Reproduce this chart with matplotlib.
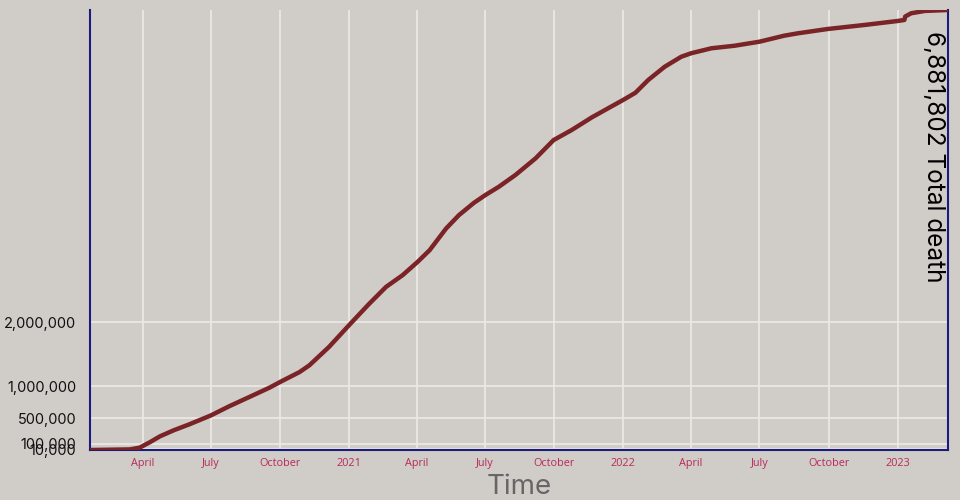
import numpy as np
import pandas as pd
import matplotlib
matplotlib.use('Agg')
from matplotlib import pyplot as plt
import matplotlib.dates as mdates

# cumulative deaths
dates = ['2020-01-22', '2020-03-15', '2020-03-28', '2020-04-11', '2020-04-24', '2020-05-12',
         '2020-06-02', '2020-07-01', '2020-07-25', '2020-08-21', '2020-09-17', '2020-10-01',
         '2020-10-27', '2020-11-09', '2020-12-05', '2021-01-01', '2021-01-27', '2021-02-19',
         '2021-03-13', '2021-04-02', '2021-04-18', '2021-05-10', '2021-05-27', '2021-06-16',
         '2021-07-01', '2021-07-19', '2021-08-10', '2021-09-06', '2021-09-30', '2021-10-24',
         '2021-11-20', '2021-12-17', '2022-01-02', '2022-01-17', '2022-02-03', '2022-02-25',
         '2022-03-19', '2022-04-01', '2022-04-28', '2022-05-29', '2022-07-01', '2022-08-03',
         '2022-08-21', '2022-09-30', '2022-11-18', '2023-01-01', '2023-01-10', '2023-01-11',
         '2023-01-19', '2023-02-06', '2023-03-09']
deaths = [555, 10000, 36600, 124000, 213500, 307000,
          401000, 542000, 683000, 829000, 976000, 1064000,
          1220000, 1325000, 1611000, 1955000, 2280000, 2551000,
          2734000, 2942000, 3125000, 3465000, 3673000, 3866000,
          3986000, 4116000, 4299000, 4561000, 4847000, 5004000,
          5203000, 5380000, 5484000, 5588000, 5787000, 5995000,
          6151000, 6205000, 6283000, 6323000, 6386000, 6480000,
          6517000, 6585000, 6648000, 6710000, 6726000, 6780000,
          6831000, 6867000, 6881802]

yticks = [10000, 100000, 500000, 1000000, 2000000]
total_label = '6,881,802 Total death'

dt = pd.to_datetime(dates)
bg = '#d0cdc9'
navy = '#1c1a7a'

fig = plt.figure(figsize=(9.6, 5), dpi=100, facecolor=bg)
ax = fig.add_axes([90/960, 50/500, 858/960, 440/500], facecolor=bg)

ax.plot(dt, deaths, color='#7b2427', lw=3.2, solid_capstyle='butt',
        solid_joinstyle='round', zorder=3)
ax.set_xlim(dt[0], dt[-1])
ax.set_ylim(min(deaths), max(deaths))

# x ticks: quarterly, year name in January
ax.xaxis.set_major_locator(mdates.MonthLocator(bymonth=[1, 4, 7, 10]))
def fmt_date(x, pos=None):
    d = mdates.num2date(x)
    if d.month == 1:
        return str(d.year)
    return d.strftime('%B')
ax.xaxis.set_major_formatter(plt.FuncFormatter(fmt_date))
ax.tick_params(axis='x', length=0, pad=6, labelsize=7.8, labelcolor='#b8285c')
for t in ax.xaxis.get_ticklabels():
    t.set_fontfamily('Open Sans')

ax.set_yticks(yticks)
ax.set_yticklabels(['{:,}'.format(v) for v in yticks])
ax.tick_params(axis='y', length=0, pad=10, labelsize=10.5, labelcolor='#111111')
for t in ax.yaxis.get_ticklabels():
    t.set_fontfamily('Inter')

ax.grid(True, color='#ece9e6', lw=1.2, zorder=0)
ax.set_axisbelow(True)

ax.spines['top'].set_visible(False)
for s in ['left', 'bottom', 'right']:
    ax.spines[s].set_color(navy)
    ax.spines[s].set_linewidth(1.5)

ax.set_xlabel('Time', fontsize=20, color='#666666', family='Inter', labelpad=3)

ax.text(0.997, 0.952, total_label, rotation=270, ha='right', va='top',
        fontsize=17.5, family='Inter', color='#000000', transform=ax.transAxes)

plt.savefig('out.png', dpi=100, facecolor=bg)
